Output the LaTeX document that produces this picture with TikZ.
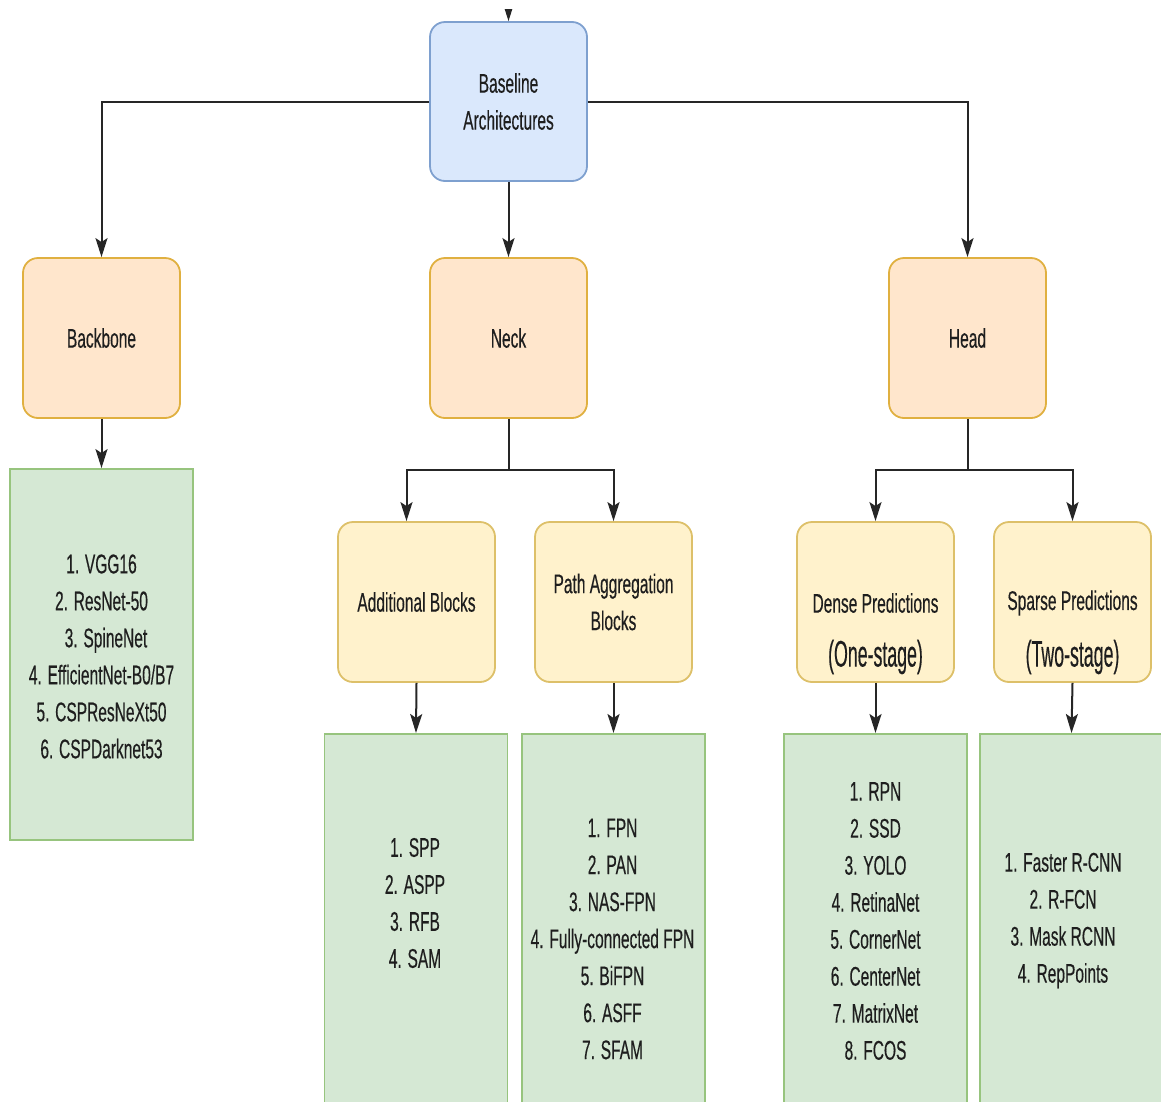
\documentclass[tikz,border=0pt]{standalone}
\usepackage{fontspec}
\setmainfont{Liberation Sans}[FakeStretch=0.575,FakeBold=0.35]
\newfontfamily\stagefont{Liberation Sans}[FakeStretch=0.48,FakeBold=0.3]
\usetikzlibrary{arrows.meta}

\definecolor{rootFill}{HTML}{DAE8FC}
\definecolor{rootLine}{HTML}{7EA0CF}
\definecolor{partFill}{HTML}{FFE6CC}
\definecolor{partLine}{HTML}{E0B040}
\definecolor{subFill}{HTML}{FFF2CC}
\definecolor{subLine}{HTML}{DDC069}
\definecolor{listFill}{HTML}{D5E8D4}
\definecolor{listLine}{HTML}{97C47E}
\definecolor{wireCol}{HTML}{262626}
\definecolor{textCol}{HTML}{1E1E1E}

\begin{document}
\begin{tikzpicture}[x=1pt,y=-1pt,
  txt/.style={font=\fontsize{27}{37}\selectfont, text=textCol, inner sep=0pt, align=center},
  stagetxt/.style={font=\stagefont\fontsize{37}{40}\selectfont, text=textCol, inner sep=0pt},
  rootbox/.style={txt, draw=rootLine, fill=rootFill, line width=1.8pt, rounded corners=15pt,
                  minimum width=157pt, minimum height=159pt},
  partbox/.style={txt, draw=partLine, fill=partFill, line width=1.8pt, rounded corners=15pt,
                  minimum width=157pt, minimum height=160pt},
  subbox/.style={txt, draw=subLine, fill=subFill, line width=1.8pt, rounded corners=15pt,
                 minimum width=157pt, minimum height=160pt},
  listbox/.style={draw=listLine, fill=listFill, line width=1.8pt, minimum width=183pt},
  wire/.style={draw=wireCol, line width=2pt},
  conn/.style={wire, -{Stealth[length=19pt,width=12pt,inset=4pt]}},
]
\useasboundingbox (0,0) rectangle (1161,1101);

% ---- top level ----
\node[rootbox] (base) at (508.5,101.5) {Baseline\\Architectures};
\coordinate (feed) at (508.5,-40);

% ---- the three parts ----
\node[partbox] (backbone) at (101.5,338) {Backbone};
\node[partbox] (neck) at (508.5,338) {Neck};
\node[partbox] (head) at (967.5,338) {Head};

% ---- neck and head sub-blocks ----
\node[subbox] (addblk) at (416.5,602) {Additional Blocks};
\node[subbox] (pathblk) at (613.5,602) {Path Aggregation\\Blocks};
\node[subbox] (dense) at (875.5,602) {};
\node[subbox] (sparse) at (1072.5,602) {};
\node[txt] (denseA) at (875.5,603) {Dense Predictions};
\node[stagetxt] (denseB) at (875.5,657) {(One-stage)};
\node[txt] (sparseA) at (1072.5,603) {Sparse Predictions};
\node[stagetxt] (sparseB) at (1072.5,657) {(Two-stage)};

% ---- lists of methods ----
\node[listbox, minimum height=371pt] (bblist) at (101.5,654.5) {};
\node[txt] (bbtxt) at (101.5,656.5)
  {1. VGG16\\2. ResNet-50\\\hspace*{9pt}3. SpineNet\\4. EfficientNet-B0/B7\\5. CSPResNeXt50\\6. CSPDarknet53};

\node[listbox, minimum height=400pt, anchor=north] (addlist) at (416,733) {};
\node[txt] (addtxt) at (415,903) {1. SPP\\2. ASPP\\3. RFB\\4. SAM};

\node[listbox, minimum height=400pt, anchor=north] (pathlist) at (613.5,733) {};
\node[txt] (pathtxt) at (612.5,939)
  {1. FPN\\2. PAN\\3. NAS-FPN\\4. Fully-connected FPN\\5. BiFPN\\6. ASFF\\7. SFAM};

\node[listbox, minimum height=400pt, anchor=north] (denselist) at (875.5,733) {};
\node[txt] (densetxt) at (875.5,921)
  {1. RPN\\2. SSD\\3. YOLO\\4. RetinaNet\\5. CornerNet\\6. CenterNet\\7. MatrixNet\\8. FCOS};

\node[listbox, minimum height=400pt, anchor=north] (sparselist) at (1071.5,733) {};
\node[txt] (sparsetxt) at (1063,920.5)
  {1. Faster R-CNN\\2. R-FCN\\3. Mask RCNN\\4. RepPoints};

% ---- connectors ----
\begin{scope}
  \clip (0,9) rectangle (1161,1101);
  \draw[conn] (feed) -- (base.north);
\end{scope}
\draw[conn] (base.west) -| (backbone.north);
\draw[conn] (base.east) -| (head.north);
\draw[conn] (base.south) -- (neck.north);

\draw[conn] (backbone.south) -- (bblist.north);

\coordinate (neckfork) at (508.5,470);
\draw[wire] (neck.south) -- (neckfork);
\draw[conn] (neckfork) -| ([xshift=-10pt]addblk.north);
\draw[conn] (neckfork) -| (pathblk.north);

\coordinate (headfork) at (967.5,470);
\draw[wire] (head.south) -- (headfork);
\draw[conn] (headfork) -| (dense.north);
\draw[conn] (headfork) -| (sparse.north);

\draw[conn] (addblk.south) -- (addlist.north);
\draw[conn] (pathblk.south) -- (pathlist.north);
\draw[conn] (dense.south) -- (denselist.north);
\draw[conn] (sparse.south) -- (sparselist.north);
\end{tikzpicture}
\end{document}
